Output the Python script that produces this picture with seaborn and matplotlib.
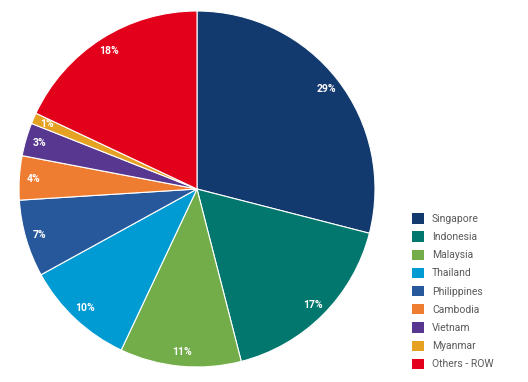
import matplotlib
matplotlib.use("Agg")
import matplotlib.pyplot as plt
import seaborn as sns

sns.set_theme(style="white")
plt.rcParams['font.family'] = ['Roboto', 'DejaVu Sans']

# data
countries = ['Singapore', 'Indonesia', 'Malaysia', 'Thailand', 'Philippines',
             'Cambodia', 'Vietnam', 'Myanmar', 'Others - ROW']
shares = [29, 17, 11, 10, 7, 4, 3, 1, 18]
colors = ['#133a6e', '#02776e', '#72ad4a', '#009bd2', '#27589c',
          '#ef7d31', '#583790', '#e5a222', '#e2001a']

W, H = 528, 382
fig = plt.figure(figsize=(W / 100, H / 100), dpi=100)

# pie axes: centre (197, 189) px, radius 178 px
cx, cy, r = 197, 189, 178
half = 182
ax = fig.add_axes([(cx - half) / W, (H - cy - half) / H, 2 * half / W, 2 * half / H])
wedges, texts, autotexts = ax.pie(
    shares, colors=colors, startangle=90, counterclock=False,
    autopct='%d%%', pctdistance=0.92,
    wedgeprops=dict(edgecolor='white', linewidth=0.8),
    textprops=dict(color='white', fontsize=7.5, fontweight='bold'))
ax.set_xlim(-half / r, half / r)
ax.set_ylim(-half / r, half / r)
ax.set_aspect('equal')
ax.axis('off')

leg = fig.legend(wedges, countries, loc='upper left',
                 bbox_to_anchor=(408 / W, 1 - 209 / H),
                 frameon=False, fontsize=7.5, labelcolor='#5a5a5a',
                 handlelength=1.15, handleheight=1.15, handletextpad=0.75,
                 labelspacing=0.72, borderaxespad=0)
for h in leg.legend_handles:
    h.set_edgecolor('none')

fig.savefig('out.png', dpi=100)
